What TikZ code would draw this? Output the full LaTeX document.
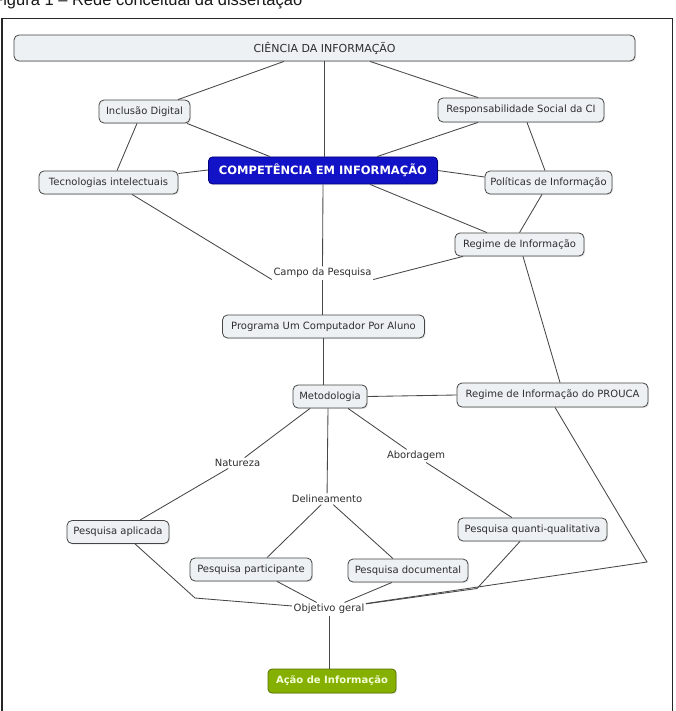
\documentclass[tikz,border=0pt]{standalone}
\usepackage{fontspec}
\setmainfont{DejaVu Sans}
\newfontfamily\capfont{Liberation Sans}
\usetikzlibrary{shadows}
\definecolor{nodefill}{HTML}{EDF1F3}
\definecolor{nodeline}{HTML}{454545}
\definecolor{edgecol}{HTML}{474747}
\definecolor{nodetext}{HTML}{2E2E2E}
\definecolor{compfill}{HTML}{1212C6}
\definecolor{compline}{HTML}{00007A}
\definecolor{acaofill}{HTML}{86B000}
\definecolor{acaoline}{HTML}{557300}
\definecolor{acaotext}{HTML}{F4FFD8}
\tikzset{
  concept/.style={draw=nodeline, fill=nodefill, rounded corners=5pt, line width=0.8pt,
    minimum height=23pt, inner sep=0pt, font=\fontsize{10}{12}\selectfont, text=nodetext,
    drop shadow={opacity=0.18, shadow xshift=1.2pt, shadow yshift=-1.2pt}},
  compbox/.style={draw=compline, fill=compfill, rounded corners=4pt, line width=0.8pt,
    inner sep=0pt, font=\fontsize{11.5}{13}\selectfont\bfseries, text=white,
    drop shadow={opacity=0.18, shadow xshift=1.2pt, shadow yshift=-1.2pt}},
  acaobox/.style={draw=acaoline, fill=acaofill, rounded corners=4pt, line width=0.8pt,
    inner sep=0pt, font=\fontsize{10}{12}\selectfont\bfseries, text=acaotext,
    drop shadow={opacity=0.18, shadow xshift=1.2pt, shadow yshift=-1.2pt}},
  linkph/.style={inner sep=1.5pt, font=\fontsize{10}{12}\selectfont, text=nodetext},
  edge/.style={draw=edgecol, line width=0.85pt},
}
\begin{document}
\begin{tikzpicture}[x=1pt, y=-1pt]
\useasboundingbox (0,0) rectangle (675,711);
\clip (0,0) rectangle (675,711);
\fill[white] (0,0) rectangle (675,711);
\node[anchor=base west, inner sep=0pt, font=\capfont\fontsize{16.5}{18}\selectfont, text=black!90] (cap) at (-7,6) {Figura 1 – Rede conceitual da dissertação};
\draw[line width=1.4pt, black!85] (2,18.5) rectangle (672.5,713);

% nodes
\node[concept, minimum width=621pt, minimum height=26pt, font=\fontsize{11}{13}\selectfont] (cien) at (324.5,48) {CIÊNCIA DA INFORMAÇÃO};
\node[concept, minimum width=91pt] (incl) at (144.5,111.5) {Inclusão Digital};
\node[concept, minimum width=166pt, minimum height=24pt] (resp) at (521,110) {Responsabilidade Social da CI};
\node[compbox, minimum width=229pt, minimum height=27pt] (comp) at (323,170.5) {COMPETÊNCIA EM INFORMAÇÃO};
\node[concept, minimum width=139pt] (tec) at (108.5,182.5) {Tecnologias intelectuais};
\node[concept, minimum width=127pt] (pol) at (548.5,182.5) {Políticas de Informação};
\node[concept, minimum width=129pt] (reg) at (519.5,244.5) {Regime de Informação};
\node[linkph] (campo) at (322.5,273) {Campo da Pesquisa};
\node[concept, minimum width=202pt] (prog) at (323.5,326.5) {Programa Um Computador Por Aluno};
\node[concept, minimum width=74pt] (met) at (330,396.5) {Metodologia};
\node[concept, minimum width=191pt, minimum height=24pt] (prouca) at (552.5,395) {Regime de Informação do PROUCA};
\node[linkph] (nat) at (237.5,463) {Natureza};
\node[linkph] (abo) at (416,456) {Abordagem};
\node[linkph] (del) at (327,499) {Delineamento};
\node[concept, minimum width=102pt] (apl) at (118,532) {Pesquisa aplicada};
\node[concept, minimum width=149pt] (qq) at (532.5,529.5) {Pesquisa quanti-qualitativa};
\node[concept, minimum width=122pt] (par) at (251,569.5) {Pesquisa participante};
\node[concept, minimum width=120pt] (doc) at (408,570.5) {Pesquisa documental};
\node[linkph] (obj) at (329,609) {Objetivo geral};
\node[acaobox, minimum width=128pt, minimum height=24pt] (acao) at (332,681) {Ação de Informação};

\coordinate (b1) at (195,598);
\coordinate (b2) at (477,588.5);
\coordinate (b3) at (647,562);

% edges
\draw[edge] ([xshift=-40.5pt]cien.south) -- ([xshift=33.5pt]incl.north);
\draw[edge] (cien.south) -- (cien.south |- comp.north);
\draw[edge] ([xshift=45.5pt]cien.south) -- ([xshift=-43pt]resp.north);
\draw[edge] ([xshift=42.5pt]incl.south) -- ([xshift=-53pt]comp.north);
\draw[edge] ([xshift=-7.5pt]incl.south) -- ([xshift=8.5pt]tec.north);
\draw[edge] ([xshift=-43pt]resp.south) -- ([xshift=54pt]comp.north);
\draw[edge] ([xshift=6pt]resp.south) -- ([xshift=-3.5pt]pol.north);
\draw[edge] ([yshift=0.5pt]comp.west) -- ([yshift=9pt]tec.east);
\draw[edge] (comp.east) -- ([yshift=5.5pt]pol.west);
\draw[edge] ([xshift=47pt]comp.south) -- ([xshift=-32.5pt]reg.north);
\draw[edge] ([xshift=-6.5pt]pol.south) -- (reg.north);
\draw[edge] ([xshift=23.5pt]tec.south) -- (campo.south west);
\draw[edge] (comp.south) -- (campo.north);
\draw[edge] ([xshift=-56.5pt]reg.south) -- (campo.south east);
\draw[edge] (campo.south) -- (campo.south |- prog.north);
\draw[edge] (prog.south) -- (prog.south |- met.north);
\draw[edge] (met.east) -- (prouca.west);
\draw[edge] ([xshift=3.5pt]reg.south) -- ([xshift=7.5pt]prouca.north);
\draw[edge] ([xshift=-20pt]met.south) -- (nat);
\draw[edge] ([xshift=-2pt]met.south) -- (del);
\draw[edge] ([xshift=18pt]met.south) -- (abo);
\draw[edge] (nat) -- ([xshift=22pt]apl.north);
\draw[edge] (del) -- ([xshift=16pt]par.north);
\draw[edge] (del) -- ([xshift=-15pt]doc.north);
\draw[edge] (abo) -- ([xshift=-20.5pt]qq.north);
\draw[edge] ([xshift=17pt]apl.south) -- (b1) -- (obj);
\draw[edge] ([xshift=26pt]par.south) -- (obj);
\draw[edge] ([xshift=-16pt]doc.south) -- (obj);
\draw[edge] ([xshift=-12.5pt]qq.south) -- (b2) -- (obj);
\draw[edge] ([xshift=2.5pt]prouca.south) -- (b3) -- (obj);
\draw[edge] (obj.south) -- (obj.south |- acao.north);
\end{tikzpicture}
\end{document}
